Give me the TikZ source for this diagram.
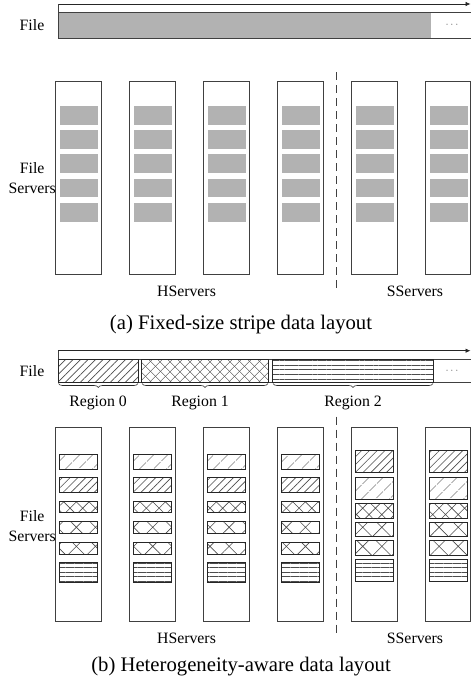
\documentclass[tikz,border=0pt]{standalone}
\usepackage{fontspec}
\setmainfont{Liberation Serif}
\usetikzlibrary{arrows.meta,patterns.meta,decorations.pathreplacing}
\begin{document}
\begin{tikzpicture}[x=1pt,y=-1pt,
  serverbox/.style={draw=black!75,line width=0.7pt},
  grayblk/.style={fill=gray!60},
  pblk/.style={draw=black!85,line width=0.7pt},
  lbl/.style={font=\fontsize{15.8}{20}\selectfont,inner sep=0pt,align=center},
  captxt/.style={font=\fontsize{20.7}{24}\selectfont,inner sep=0pt},
  dots/.style={font=\fontsize{11}{12}\selectfont,text=black!60,inner sep=0pt},
  timeline/.style={draw=black!85,line width=0.7pt,-{Latex[length=5pt,width=4.5pt]}},
  sep/.style={draw=black!75,line width=0.7pt,dash pattern=on 8pt off 5pt},
  pc/.style={pattern color=black!70},
  diagdense/.style={pattern={Lines[angle=45,distance=5.5pt,line width=0.6pt]},pc},
  diagsparse/.style={pattern={Lines[angle=45,distance=10.5pt,line width=0.6pt]},pc},
  crossdense/.style={pattern={Hatch[angle=45,distance=9pt,line width=0.6pt]},pc},
  crosssparse/.style={pattern={Hatch[angle=45,distance=13.5pt,line width=0.6pt]},pc},
  hlines/.style={pattern={Lines[angle=0,distance=4.5pt,line width=0.6pt]},pc},
  fdiag/.style={pattern={Lines[angle=45,distance=5.3pt,line width=0.6pt]},pc},
  fcross/.style={preaction={pattern={Lines[angle=45,distance=6.9pt,line width=0.6pt]},pc},
                 pattern={Lines[angle=-45,distance=6.9pt,line width=0.6pt]},pc},
  fhlines/.style={pattern={Lines[angle=0,distance=4.7pt,line width=0.6pt]},pc},
  brc/.style={draw=black!85,line width=0.6pt,decorate,decoration={brace,amplitude=4pt,mirror}}
]
\useasboundingbox (0,0) rectangle (471,680);

% ================= (a) =================
\coordinate (ta0) at (58,4);
\coordinate (ta1) at (470.5,4);
\draw[timeline] (ta0) -- (ta1);
\fill[gray!60] (58,12.7) rectangle (431,38.3);
\draw[serverbox] (470.5,12.7) -- (58,12.7) -- (58,38.3) -- (470.5,38.3);
\draw[serverbox] (58,4) -- (58,12.7);
\node[dots] (dotsa) at (452,25.5) {\raisebox{0.3ex}{$\cdots$}};
\node[lbl] (filea) at (32,25.5) {File};

\foreach \l/\r in {55.7/101.7,129.7/175.7,203.7/249.7,277.7/323.7,351.7/397.7,425.7/470.5}{
  \draw[serverbox] (\l,81.7) rectangle (\r,274.7);
  \foreach \t in {106,130.2,154.4,178.8,203}{
    \fill[grayblk] (\l+4.3,\t) rectangle (\l+42,\t+18.5);
  }
}
\coordinate (sepa0) at (336.7,72);
\coordinate (sepa1) at (336.7,291);
\draw[sep] (sepa0) -- (sepa1);
\node[lbl] (fsa) at (32.2,178) {File\\Servers};
\node[lbl] (hsa) at (186.5,291.5) {HServers};
\node[lbl] (ssa) at (415,291.5) {SServers};
\node[captxt] (capa) at (241,325) {(a) Fixed-size stripe data layout};

% ================= (b) =================
\coordinate (tb0) at (58,350.7);
\coordinate (tb1) at (470.5,350.7);
\draw[timeline] (tb0) -- (tb1);
\draw[serverbox] (470.5,359) -- (58,359) -- (58,382.3) -- (470.5,382.3);
\draw[serverbox] (58,350.7) -- (58,359);
\draw[pblk,fdiag] (58,359) rectangle (138.3,382.3);
\draw[pblk,fcross] (141.7,359) rectangle (268.3,382.3);
\draw[pblk,fhlines] (272.7,359) rectangle (433.3,382.3);
\coordinate (r0a) at (58.5,383.5);
\coordinate (r0b) at (138,383.5);
\coordinate (r1a) at (142,383.5);
\coordinate (r1b) at (268,383.5);
\coordinate (r2a) at (273,383.5);
\coordinate (r2b) at (433,383.5);
\draw[brc] (r0a) -- (r0b);
\draw[brc] (r1a) -- (r1b);
\draw[brc] (r2a) -- (r2b);
\node[dots] (dotsb) at (452,371.5) {\raisebox{0.3ex}{$\cdots$}};
\node[lbl] (fileb) at (32,371.5) {File};
\node[lbl] (reg0) at (98,403) {Region 0};
\node[lbl] (reg1) at (200,403) {Region 1};
\node[lbl] (reg2) at (353,403) {Region 2};

\foreach \l/\r in {55.7/101.7,129.7/175.7,203.7/249.7,277.7/323.7}{
  \draw[serverbox] (\l,427.7) rectangle (\r,621);
  \draw[pblk,diagsparse] (\l+3.6,454) rectangle (\l+42,469);
  \draw[pblk,diagdense] (\l+3.6,477.3) rectangle (\l+42,492.3);
  \draw[pblk,crossdense] (\l+3.6,501) rectangle (\l+42,512.7);
  \draw[pblk,crosssparse] (\l+3.6,521.7) rectangle (\l+42,533.3);
  \draw[pblk,crosssparse] (\l+3.6,542.3) rectangle (\l+42,554);
  \draw[pblk,hlines] (\l+3.6,562.3) rectangle (\l+42,582.7);
}
\foreach \l/\r in {351.7/397.7,425.7/470.5}{
  \draw[serverbox] (\l,427.7) rectangle (\r,621);
  \draw[pblk,diagdense] (\l+3.6,450) rectangle (\l+41.6,472.7);
  \draw[pblk,diagsparse] (\l+3.6,477.3) rectangle (\l+41.6,499.3);
  \draw[pblk,crossdense] (\l+3.6,503.7) rectangle (\l+41.6,518.3);
  \draw[pblk,crosssparse] (\l+3.6,522.3) rectangle (\l+41.6,536.3);
  \draw[pblk,crosssparse] (\l+3.6,540.7) rectangle (\l+41.6,555);
  \draw[pblk,hlines] (\l+3.6,559.3) rectangle (\l+41.6,581.7);
}
\coordinate (sepb0) at (336.7,416.7);
\coordinate (sepb1) at (336.7,637);
\draw[sep] (sepb0) -- (sepb1);
\node[lbl] (fsb) at (32.2,526) {File\\Servers};
\node[lbl] (hsb) at (186.5,638) {HServers};
\node[lbl] (ssb) at (415,638) {SServers};
\node[captxt] (capb) at (241,667) {(b) Heterogeneity-aware data layout};
\end{tikzpicture}
\end{document}
